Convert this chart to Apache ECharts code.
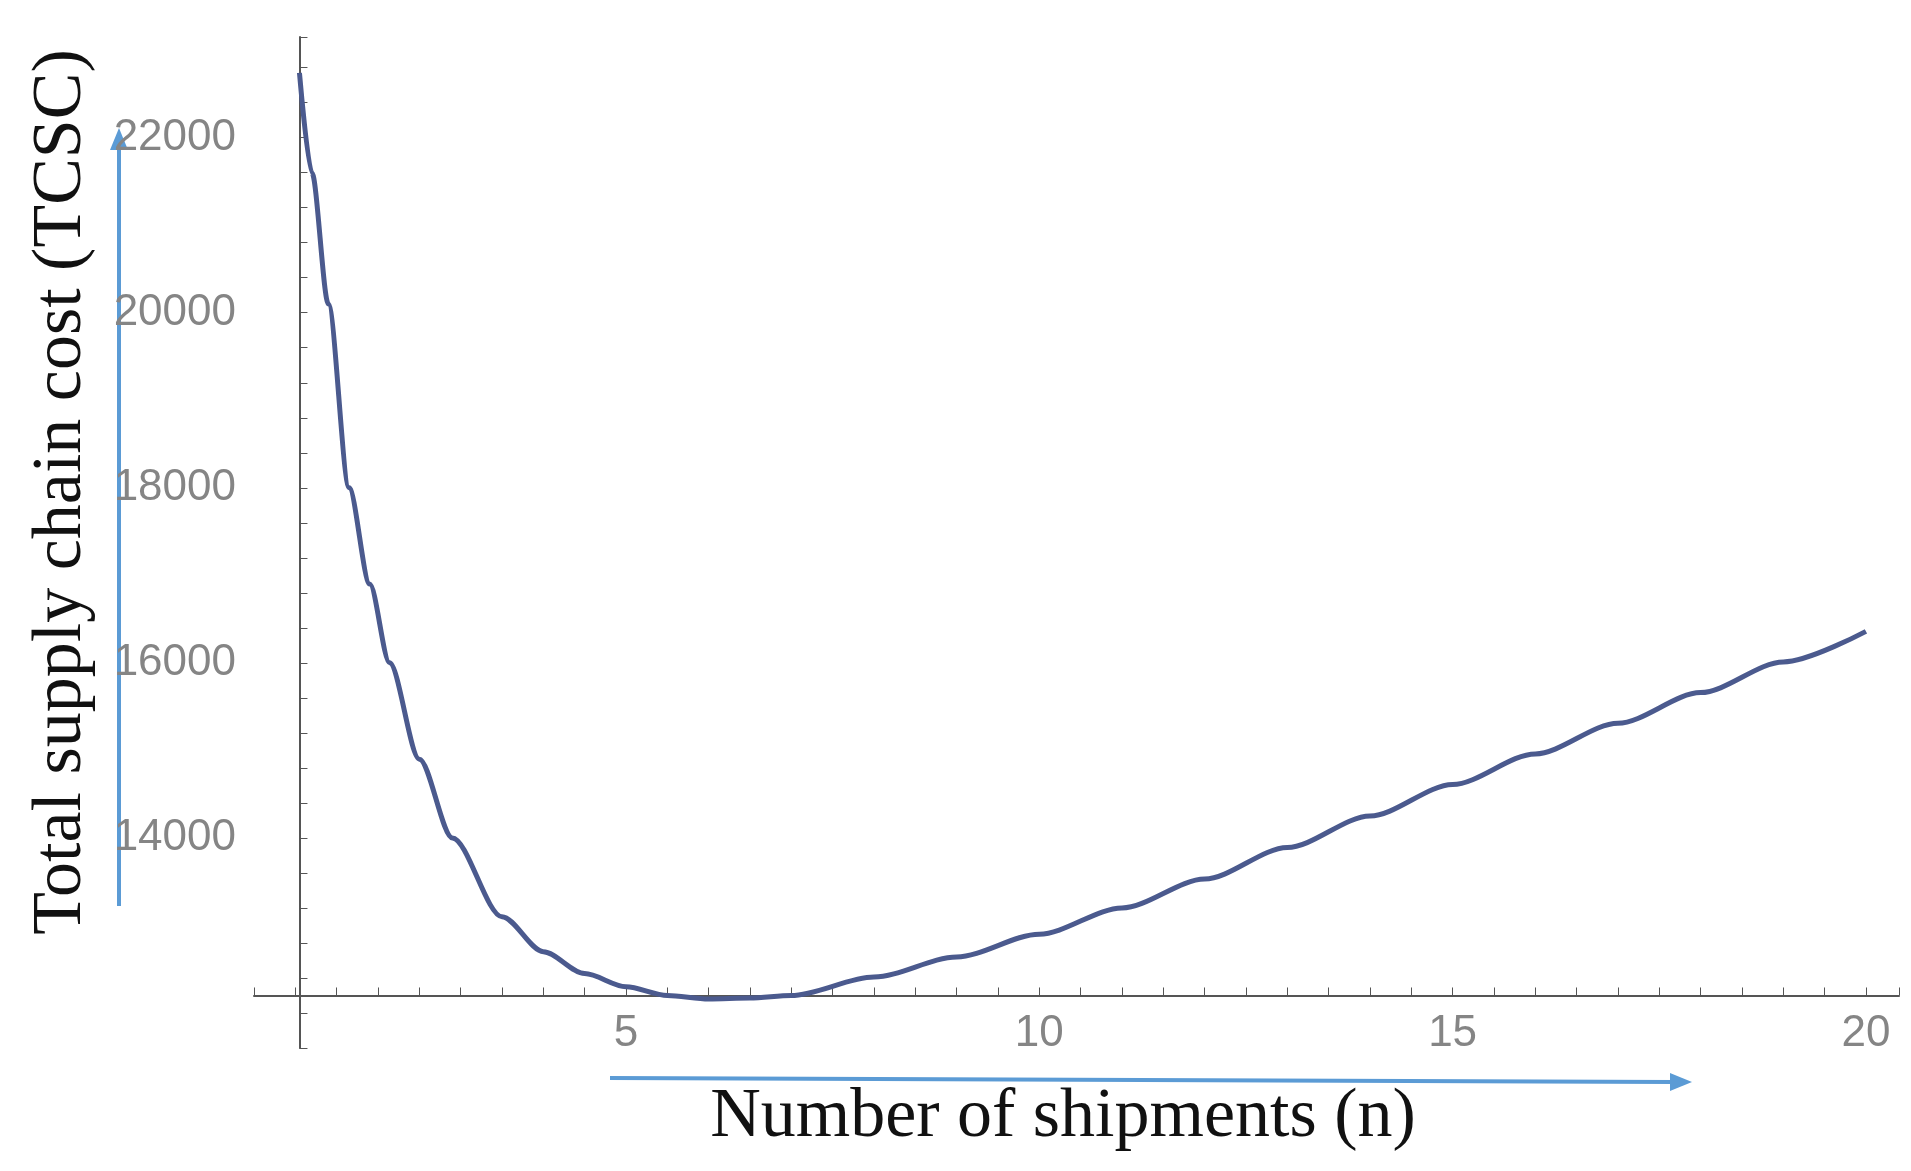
<!DOCTYPE html>
<html>
<head>
<meta charset="utf-8">
<script src="https://cdn.jsdelivr.net/npm/echarts@6/dist/echarts.min.js"></script>
<style>html,body{margin:0;background:#fff}#chart{width:1911px;height:1171px}</style>
</head>
<body>
<div id="chart"></div>
<script>
// values
const shipments = [1.05, 1.2, 1.4, 1.65, 1.9, 2.14, 2.5, 2.9, 3.5, 4, 4.5, 5, 5.5, 6, 6.5, 7, 8, 9, 10, 11, 12, 13, 14, 15, 16, 17, 18, 19, 20]
const tcsc = [22740, 21600, 20100, 18000, 16900, 16000, 14900, 14000, 13100, 12700, 12450, 12300, 12200, 12160, 12170, 12200, 12410, 12640, 12900, 13200, 13530, 13890, 14250, 14610, 14960, 15310, 15660, 16010, 16360]
const xTicks = [5, 10, 15, 20]
const yTicks = [14000, 16000, 18000, 20000, 22000]

const seriesData = shipments.map((n, i) => [n, tcsc[i]])
const myChart = echarts.init(document.getElementById('chart'))
const tickFont = {color: '#858585', fontSize: 44, fontFamily: 'Liberation Sans'}
const axisColor = '#555'

myChart.setOption({
    animation: false,
    grid: {left: 254, right: 12, top: 37, bottom: 123},
    xAxis: [{
        type: 'value', min: 0.5, max: 20.4, interval: 0.5,
        axisLine: {onZero: true, onZeroAxisIndex: 1, lineStyle: {color: axisColor, width: 2}},
        axisTick: {inside: true, length: 8, lineStyle: {color: axisColor}},
        splitLine: {show: false},
        axisLabel: Object.assign({
            margin: -36,
            formatter: v => xTicks.includes(v) ? String(v) : ''
        }, tickFont)
    }, {
        // helper axis so the y axis sits at n = 1.05
        type: 'value', min: -0.55, max: 19.35, show: false
    }],
    yAxis: [{
        type: 'value', min: 11600, max: 23150, interval: 400,
        axisLine: {onZero: true, onZeroAxisIndex: 1, lineStyle: {color: axisColor, width: 2}},
        axisTick: {inside: true, length: 8, lineStyle: {color: axisColor}},
        splitLine: {show: false},
        axisLabel: Object.assign({
            margin: 18,
            formatter: v => yTicks.includes(v) ? String(v) : ''
        }, tickFont)
    }, {
        // helper axis so the x axis sits at TCSC = 12200
        type: 'value', min: -600, max: 10950, show: false
    }],
    series: [{
        type: 'line',
        data: seriesData,
        smooth: 0.3,
        smoothMonotone: 'x',
        showSymbol: false,
        lineStyle: {color: '#4b5a8e', width: 5}
    }],
    graphic: [
        {type: 'text', rotation: Math.PI / 2, position: [62, 492],
            style: {text: 'Total supply chain cost (TCSC)', font: '70px "Liberation Serif"', fill: '#111',
                textAlign: 'center', textVerticalAlign: 'middle'}},
        {type: 'text', position: [1063, 1118],
            style: {text: 'Number of shipments (n)', font: '70px "Liberation Serif"', fill: '#111',
                textAlign: 'center', textVerticalAlign: 'middle'}},
        {type: 'line', shape: {x1: 119, y1: 906, x2: 119, y2: 145}, style: {stroke: '#5b9bd5', lineWidth: 4}},
        {type: 'polygon', shape: {points: [[119, 128], [110, 150], [128, 150]]}, style: {fill: '#5b9bd5'}},
        {type: 'line', shape: {x1: 610, y1: 1078, x2: 1672, y2: 1082}, style: {stroke: '#5b9bd5', lineWidth: 4}},
        {type: 'polygon', shape: {points: [[1692, 1082], [1670, 1073], [1670, 1091]]}, style: {fill: '#5b9bd5'}}
    ]
})
</script>
</body>
</html>
